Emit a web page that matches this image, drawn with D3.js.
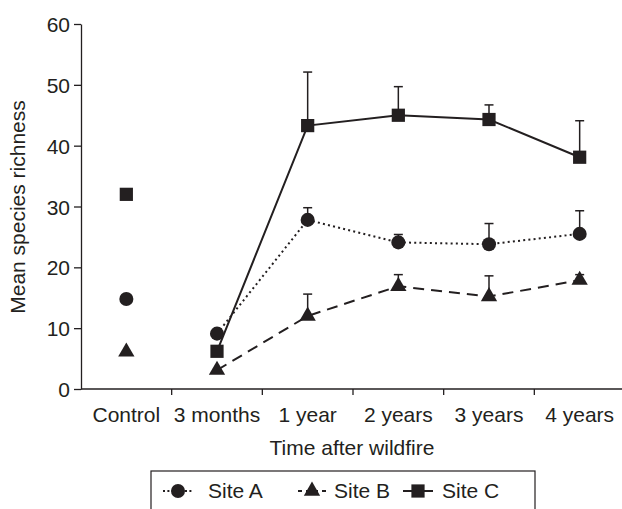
<!DOCTYPE html>
<html>
<head>
<meta charset="utf-8">
<script src="https://cdn.jsdelivr.net/npm/d3@7"></script>
<style>
   body { margin: 0; background: #fff; }
   text { font-family: "Liberation Sans", Arial, sans-serif; fill: #231f20; }
</style>
</head>
<body>
<svg id="chart" width="622" height="509"></svg>
<script>
// data
const categories = ["Control", "3 months", "1 year", "2 years", "3 years", "4 years"];
const yTicks = [0, 10, 20, 30, 40, 50, 60];

const siteA = [14.8, 9.1, 27.8, 24.1, 23.8, 25.5];
const siteB = [6.1, 3.1, 12.0, 16.9, 15.2, 17.9];
const siteC = [32.0, 6.2, 43.3, 45.0, 44.3, 38.1];

// upper error bars (null = none)
const errA = [null, null, 2.0, 1.3, 3.4, 3.8];
const errB = [null, null, 3.6, 1.9, 3.4, 0.9];
const errC = [null, null, 8.8, 4.7, 2.4, 6.0];

const seriesNames = ["Site A", "Site B", "Site C"];

// setup
const ink = "#231f20";
const svg = d3.select("#chart");

const x = d3.scaleBand().domain(categories).range([81, 625]).padding(0);
const y = d3.scaleLinear().domain([0, 60]).range([389, 24]);

const series = [
   { name: seriesNames[0], values: siteA, err: errA, symbol: d3.symbolCircle, size: 155, dash: "2,3.2", legendDash: "2,2.4" },
   { name: seriesNames[1], values: siteB, err: errB, symbol: d3.symbolTriangle, size: 115, dash: "11,7", legendDash: "4,4" },
   { name: seriesNames[2], values: siteC, err: errC, symbol: d3.symbolSquare, size: 175, dash: null, legendDash: null }
];

// y axis
const yAxis = d3.axisLeft(y).tickValues(yTicks).tickSize(7).tickSizeOuter(0).tickPadding(4);
const gy = svg.append("g").attr("transform", "translate(81,0)").call(yAxis);
gy.select(".domain").attr("stroke", ink).attr("stroke-width", 1.3);
gy.selectAll(".tick line").attr("stroke", ink).attr("stroke-width", 1.3);
gy.selectAll(".tick text").attr("font-size", 21).attr("fill", ink).attr("dy", "0.36em");

// x axis: labels centred in bands, ticks on band edges
const xAxis = d3.axisBottom(x).tickSize(0).tickPadding(18);
const gx = svg.append("g").attr("transform", "translate(0,389)").call(xAxis);
gx.select(".domain").remove();
gx.selectAll(".tick text").attr("font-size", 21).attr("fill", ink);
gx.append("line")
   .attr("x1", 81).attr("x2", 622)
   .attr("stroke", ink).attr("stroke-width", 1.3);
gx.selectAll(".edge")
   .data(categories.slice(1))
   .enter()
   .append("line")
   .attr("class", "edge")
   .attr("x1", (d) => x(d)).attr("x2", (d) => x(d))
   .attr("y1", 0).attr("y2", 6)
   .attr("stroke", ink).attr("stroke-width", 1.3);

// axis titles
svg.append("text")
   .attr("transform", "translate(25,207) rotate(-90)")
   .attr("text-anchor", "middle")
   .attr("font-size", 21)
   .text("Mean species richness");

svg.append("text")
   .attr("x", 352).attr("y", 455)
   .attr("text-anchor", "middle")
   .attr("font-size", 21)
   .text("Time after wildfire");

const cx = (i) => x(categories[i]) + x.bandwidth() / 2;

// error bars
series.forEach((s) => {
   const g = svg.append("g");
   s.values.forEach((v, i) => {
      if (s.err[i] == null) return;
      const top = y(v + s.err[i]);
      g.append("line")
         .attr("x1", cx(i)).attr("x2", cx(i))
         .attr("y1", y(v)).attr("y2", top)
         .attr("stroke", ink).attr("stroke-width", 1.5);
      g.append("line")
         .attr("x1", cx(i) - 4.5).attr("x2", cx(i) + 4.5)
         .attr("y1", top).attr("y2", top)
         .attr("stroke", ink).attr("stroke-width", 1.5);
   });
});

// lines (no line to control)
const line = d3.line().x((d) => cx(d.i)).y((d) => y(d.v));
series.forEach((s) => {
   const pts = s.values.map((v, i) => ({ v, i })).slice(1);
   svg.append("path")
      .attr("d", line(pts))
      .attr("fill", "none")
      .attr("stroke", ink)
      .attr("stroke-width", 2)
      .attr("stroke-dasharray", s.dash);
});

// markers
series.forEach((s) => {
   svg.append("g")
      .selectAll("path")
      .data(s.values)
      .enter()
      .append("path")
      .attr("d", d3.symbol().type(s.symbol).size(s.size))
      .attr("transform", (d, i) => `translate(${cx(i)},${y(d)})`)
      .attr("fill", ink);
});

// legend
const legend = svg.append("g");
legend.append("rect")
   .attr("x", 151).attr("y", 471)
   .attr("width", 384).attr("height", 60)
   .attr("fill", "none").attr("stroke", ink).attr("stroke-width", 1.2);

const legendItems = [
   { s: series[0], x1: 163, x2: 193, tx: 208 },
   { s: series[1], x1: 298, x2: 326, tx: 334 },
   { s: series[2], x1: 403, x2: 433, tx: 442 }
];
legendItems.forEach((d) => {
   const mid = (d.x1 + d.x2) / 2;
   legend.append("line")
      .attr("x1", d.x1).attr("x2", d.x2)
      .attr("y1", 491).attr("y2", 491)
      .attr("stroke", ink).attr("stroke-width", 2)
      .attr("stroke-dasharray", d.s.legendDash);
   legend.append("path")
      .attr("d", d3.symbol().type(d.s.symbol).size(d.s.size))
      .attr("transform", `translate(${mid},491)`)
      .attr("fill", ink);
   legend.append("text")
      .attr("x", d.tx).attr("y", 498)
      .attr("font-size", 21)
      .text(d.s.name);
});
</script>
</body>
</html>
